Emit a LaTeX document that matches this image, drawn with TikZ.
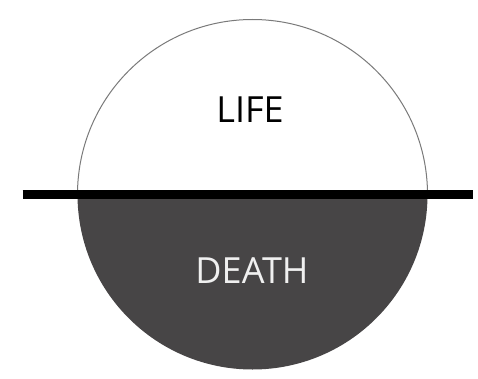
\documentclass[tikz,border=0pt]{standalone}
\usepackage{fontspec}
\setmainfont{Open Sans}
\definecolor{deathgray}{HTML}{474546}
\definecolor{rimgray}{HTML}{7A7A7A}
\definecolor{deathtext}{HTML}{F0F0F0}
\tikzset{
  label text/.style={font=\fontsize{36}{40}\selectfont, inner sep=0pt, anchor=base},
}
\begin{document}
\begin{tikzpicture}[x=1pt,y=1pt]
\useasboundingbox (0,0) rectangle (478,378);
\fill[white] (0,0) rectangle (478,378);
\coordinate (c) at (252.5,183.5);
% lower half dark
\fill[deathgray] ([xshift=-175pt]c) arc[start angle=180, end angle=360, radius=175] -- cycle;
% upper arc outline
\draw[rimgray, line width=1pt] ([xshift=175pt]c) arc[start angle=0, end angle=180, radius=175];
% horizontal bar
\coordinate (l) at (22.5,183.5);
\coordinate (r) at (473,183.5);
\draw[black, line width=8.5pt] (l) -- (r);
\node[label text, text=black] (life) at (250,255) {LIFE};
\node[label text, text=deathtext] (death) at (252,95) {DEATH};
\end{tikzpicture}
\end{document}
